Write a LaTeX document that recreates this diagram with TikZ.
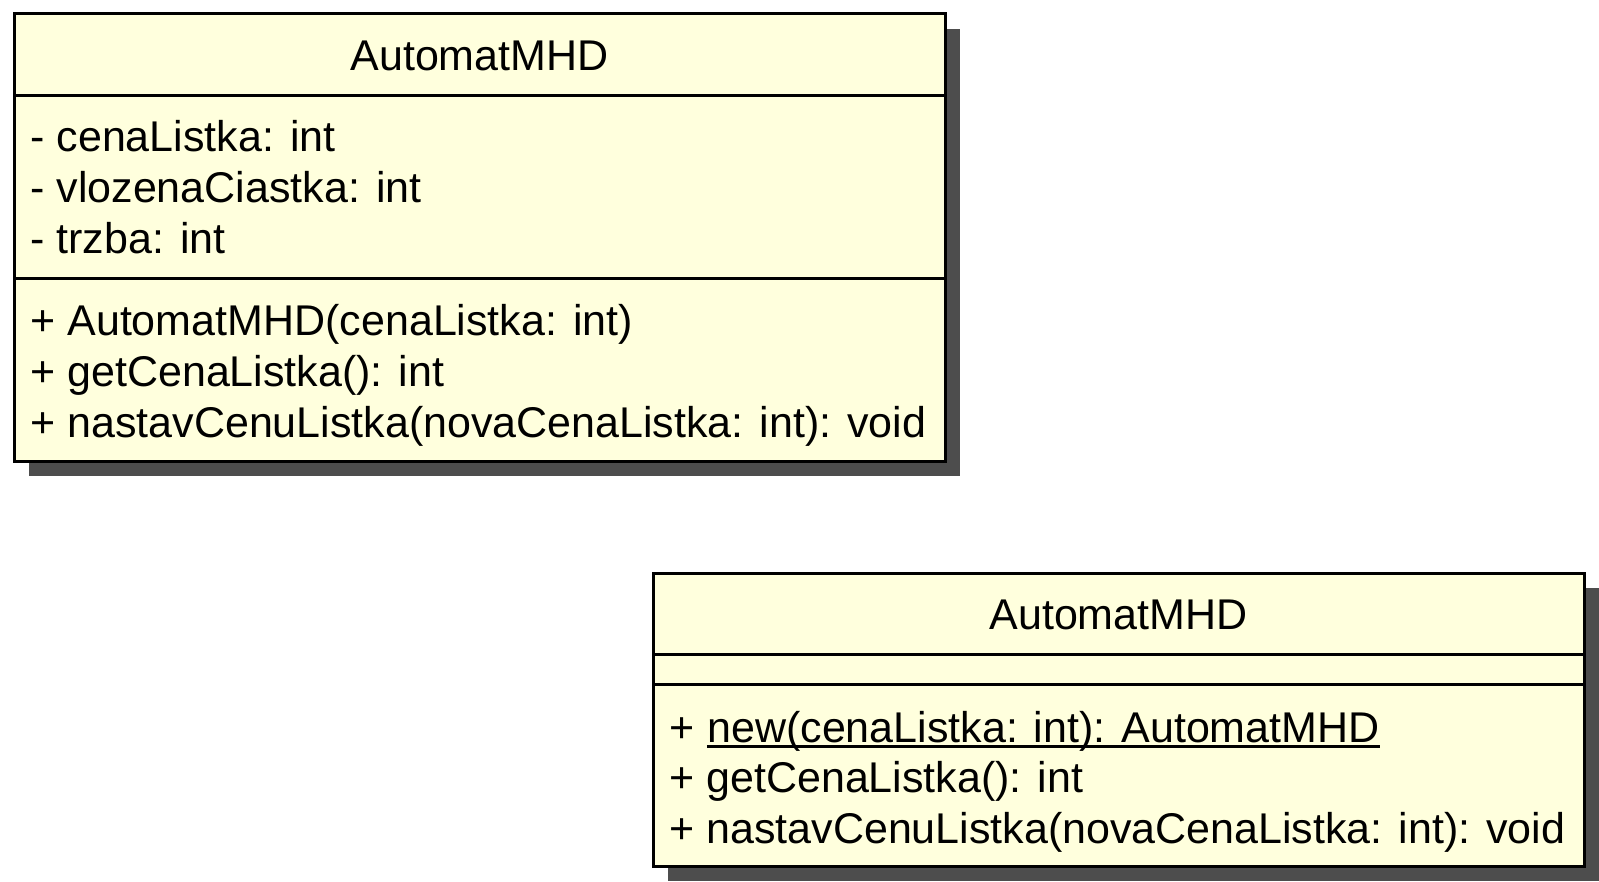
\documentclass[tikz,border=0pt]{standalone}
\usepackage{fontspec}
\setmainfont{Liberation Sans}
\usetikzlibrary{calc}

\definecolor{umlfill}{RGB}{255,255,221}
\definecolor{umlshadow}{RGB}{77,77,77}
\newcommand{\umlfont}{\fontsize{21.5}{25.5}\selectfont}

\tikzset{
  classbox/.style={draw=black, line width=1.5pt, fill=umlfill},
  classshadow/.style={fill=umlshadow},
  member/.style={anchor=base west, inner sep=0pt, font=\umlfont},
  classname/.style={anchor=base, inner sep=0pt, font=\umlfont}
}

\begin{document}
\begin{tikzpicture}[x=0.5pt, y=-0.5pt]
        \useasboundingbox (0,0) rectangle (1599,882);

        % trieda s konstruktorom
        \fill[classshadow] (29,29) rectangle (960,476);
        \draw[classbox] (14,14) rectangle (945,461);
        \draw[line width=1.5pt] (14,96) -- (945,96);
        \draw[line width=1.5pt] (14,278) -- (945,278);

        \node[classname] (nameA) at (479.5,70.5) {AutomatMHD};

        \node[member] (cenaA) at (30,152) {- cenaListka: int};
        \node[member] (vlozA) at (30,203) {- vlozenaCiastka: int};
        \node[member] (trzbaA) at (30,254) {- trzba: int};

        \node[member] (konA) at (30,335) {+ AutomatMHD(cenaListka: int)};
        \node[member] (getA) at (30,386) {+ getCenaListka(): int};
        \node[member] (setA) at (30,437) {+ nastavCenuListka(novaCenaListka: int): void};

        % trieda s tovarnou metodou
        \fill[classshadow] (668,588) rectangle (1599,881);
        \draw[classbox] (653,573) rectangle (1584,866);
        \draw[line width=1.5pt] (653,654) -- (1584,654);
        \draw[line width=1.5pt] (653,684) -- (1584,684);

        \node[classname] (nameB) at (1118.5,629.5) {AutomatMHD};

        \node[member] (plusB) at (669,742) {+};
        \node[member] (newB) at ($(plusB.base east)+(12,0)$) {new(cenaListka: int): AutomatMHD};
        \draw[line width=1.5pt] ($(newB.base west)+(0,4)$) -- ($(newB.base east)+(0,4)$); % podciarknutie (static)
        \node[member] (getB) at (669,792) {+ getCenaListka(): int};
        \node[member] (setB) at (669,843) {+ nastavCenuListka(novaCenaListka: int): void};

\end{tikzpicture}
\end{document}
